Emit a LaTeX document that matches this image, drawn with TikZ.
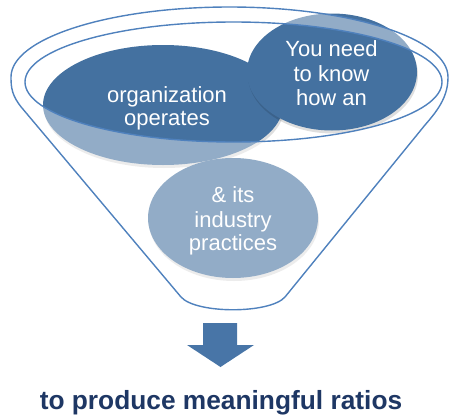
\documentclass[tikz,border=0pt]{standalone}
\usepackage{fontspec}
\setmainfont{Liberation Sans}
\definecolor{ellblue}{RGB}{68,113,160}
\definecolor{linblue}{RGB}{79,129,189}
\definecolor{navyt}{RGB}{30,55,100}
\definecolor{arrblue}{RGB}{72,117,167}
\begin{document}
\begin{tikzpicture}[x=1pt,y=-1pt,
  ellfill/.style={fill=ellblue},
  shadowfill/.style={fill=black, fill opacity=0.13},
  ltext/.style={text=white, font=\fontsize{22}{24}\selectfont, anchor=base, inner sep=0pt},
  funnelline/.style={draw=linblue, line width=1.4pt},
  veil/.style={fill=white, fill opacity=0.42, even odd rule},
  titletext/.style={text=navyt, font=\bfseries\fontsize{26.3}{30}\selectfont, anchor=base, inner sep=0pt},
  arrowfill/.style={fill=arrblue}]
\useasboundingbox (0,0) rectangle (450,415);
% shadows
\fill[shadowfill] (164,108) ellipse [x radius=120pt, y radius=60pt];
\fill[shadowfill] (234,221) ellipse [x radius=85pt, y radius=60pt];
% ellipses
\fill[ellfill] (163,105) ellipse [x radius=120pt, y radius=60pt];
\fill[shadowfill] (333,75) ellipse [x radius=85pt, y radius=58.5pt];
\fill[ellfill] (332,72) ellipse [x radius=85pt, y radius=58.5pt];
\fill[ellfill] (233,218) ellipse [x radius=85pt, y radius=60pt];
% texts
\node[ltext] (l1) at (167,102) {organization};
\node[ltext] (l2) at (167,125) {operates};
\node[ltext] (r1) at (331.5,56) {You need};
\node[ltext] (r2) at (331.5,81) {to know};
\node[ltext] (r3) at (331.5,105) {how an};
\node[ltext] (b1) at (233,202) {\& its};
\node[ltext] (b2) at (233,227) {industry};
\node[ltext] (b3) at (233,250) {practices};
% funnel veil
\path[veil] (11,77) arc[start angle=180, end angle=0, x radius=218.5pt, y radius=70pt]
  .. controls (448,95) and (440,108) .. (425,125) -- (285,297)
  .. controls (270,314) and (196,314) .. (181,297) -- (22,108)
  .. controls (12,96) and (11,88) .. (11,77) -- cycle
  (233.5,82) ellipse [x radius=208.5pt, y radius=60pt];
% funnel outlines
\draw[funnelline] (11,77) arc[start angle=180, end angle=0, x radius=218.5pt, y radius=70pt]
  .. controls (448,95) and (440,108) .. (425,125) -- (285,297)
  .. controls (270,314) and (196,314) .. (181,297) -- (22,108)
  .. controls (12,96) and (11,88) .. (11,77) -- cycle;
\draw[funnelline] (233.5,82) ellipse [x radius=208.5pt, y radius=60pt];
% arrow
\fill[arrowfill] (203,323) -- (237,323) -- (237,345) -- (254,345) -- (220.5,367) -- (187,345) -- (203,345) -- cycle;
% bottom text
\node[titletext] (ratios) at (221,409) {to produce meaningful ratios};
\end{tikzpicture}
\end{document}
